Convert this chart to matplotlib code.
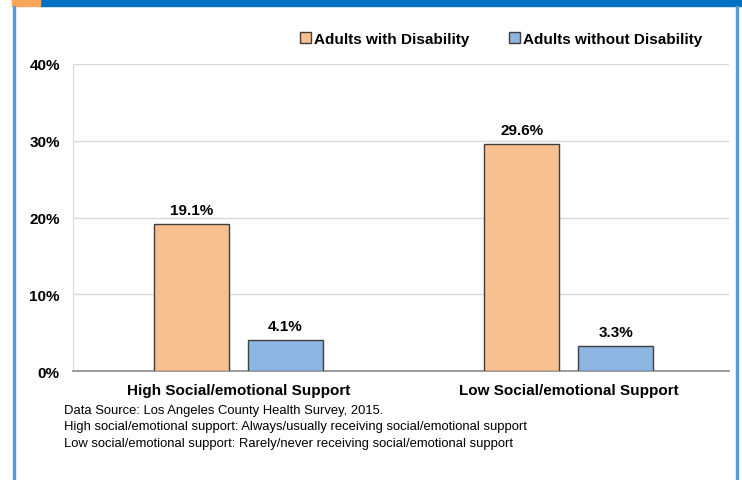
import matplotlib.pyplot as plt
import numpy as np
from matplotlib.patches import Rectangle
from matplotlib.ticker import FuncFormatter

categories = ["High Social/emotional Support", "Low Social/emotional Support"]
with_disability = [19.1, 29.6]
without_disability = [4.1, 3.3]
series_names = ["Adults with Disability", "Adults without Disability"]
footnotes = [
    "Data Source: Los Angeles County Health Survey, 2015.",
    "High social/emotional support: Always/usually receiving social/emotional support",
    "Low social/emotional support: Rarely/never receiving social/emotional support",
]

ORANGE = "#F9C08F"
BLUE = "#8EB4E3"
EDGE = "#3F3F3F"

plt.rcParams["font.family"] = ["Liberation Sans", "DejaVu Sans"]

fig = plt.figure(figsize=(7.42, 4.81), dpi=100)
ax = fig.add_axes([73 / 742, 1 - 372 / 481, 656 / 742, 307 / 481])

x = np.arange(len(categories))
w = 0.227
off = 0.1424
b1 = ax.bar(x - off, with_disability, w, color=ORANGE, edgecolor=EDGE,
            linewidth=1.0, label=series_names[0], zorder=3)
b2 = ax.bar(x + off, without_disability, w, color=BLUE, edgecolor=EDGE,
            linewidth=1.0, label=series_names[1], zorder=3)

for bars in (b1, b2):
    for r in bars:
        ax.annotate(f"{r.get_height():.1f}%",
                    (r.get_x() + r.get_width() / 2, r.get_height()),
                    xytext=(0, 5), textcoords="offset points",
                    ha="center", va="bottom", fontsize=11, fontweight="bold")

ax.set_xlim(-0.5015, 1.486)
ax.set_ylim(0, 40)
ax.set_yticks([0, 10, 20, 30, 40])
ax.yaxis.set_major_formatter(FuncFormatter(lambda v, _: f"{v:.0f}%"))
ax.set_xticks(x)
ax.set_xticklabels(categories, fontsize=11, fontweight="bold")
for lab in ax.get_yticklabels():
    lab.set_fontweight("bold")
    lab.set_fontsize(11)
ax.tick_params(axis="both", length=0)
ax.tick_params(axis="y", pad=9.5)
ax.tick_params(axis="x", pad=9)
ax.grid(axis="y", color="#D9D9D9", linewidth=1.0, zorder=0)
for s in ("top", "right"):
    ax.spines[s].set_visible(False)
ax.spines["left"].set_color("#D9D9D9")
ax.spines["bottom"].set_color("#8C8C8C")
ax.spines["bottom"].set_linewidth(1.2)

leg = fig.legend(handles=[b1, b2], labels=series_names, loc="center left",
                 bbox_to_anchor=(300 / 742, 1 - 40 / 481), ncol=2, frameon=False,
                 prop={"weight": "bold", "size": 11}, handlelength=0.7,
                 handleheight=0.7, handletextpad=0.2, columnspacing=2.6,
                 borderpad=0, borderaxespad=0)

for i, line in enumerate(footnotes):
    fig.text(64 / 742, 1 - (411 + 16.5 * i) / 481, line, fontsize=9.35,
             va="center", ha="left")

# frame decorations
fig.patches.append(Rectangle((40 / 742, 1 - 7 / 481), 702 / 742, 7 / 481,
                             transform=fig.transFigure, color="#0070C0"))
fig.patches.append(Rectangle((12 / 742, 1 - 7 / 481), 28 / 742, 7 / 481,
                             transform=fig.transFigure, color="#F9A65A"))
fig.patches.append(Rectangle((13 / 742, 0), 2 / 742, 1 - 7 / 481,
                             transform=fig.transFigure, color="#5B9BD5"))
fig.patches.append(Rectangle((736 / 742, 0), 2 / 742, 1 - 7 / 481,
                             transform=fig.transFigure, color="#5B9BD5"))

fig.savefig("out.png", dpi=100)
